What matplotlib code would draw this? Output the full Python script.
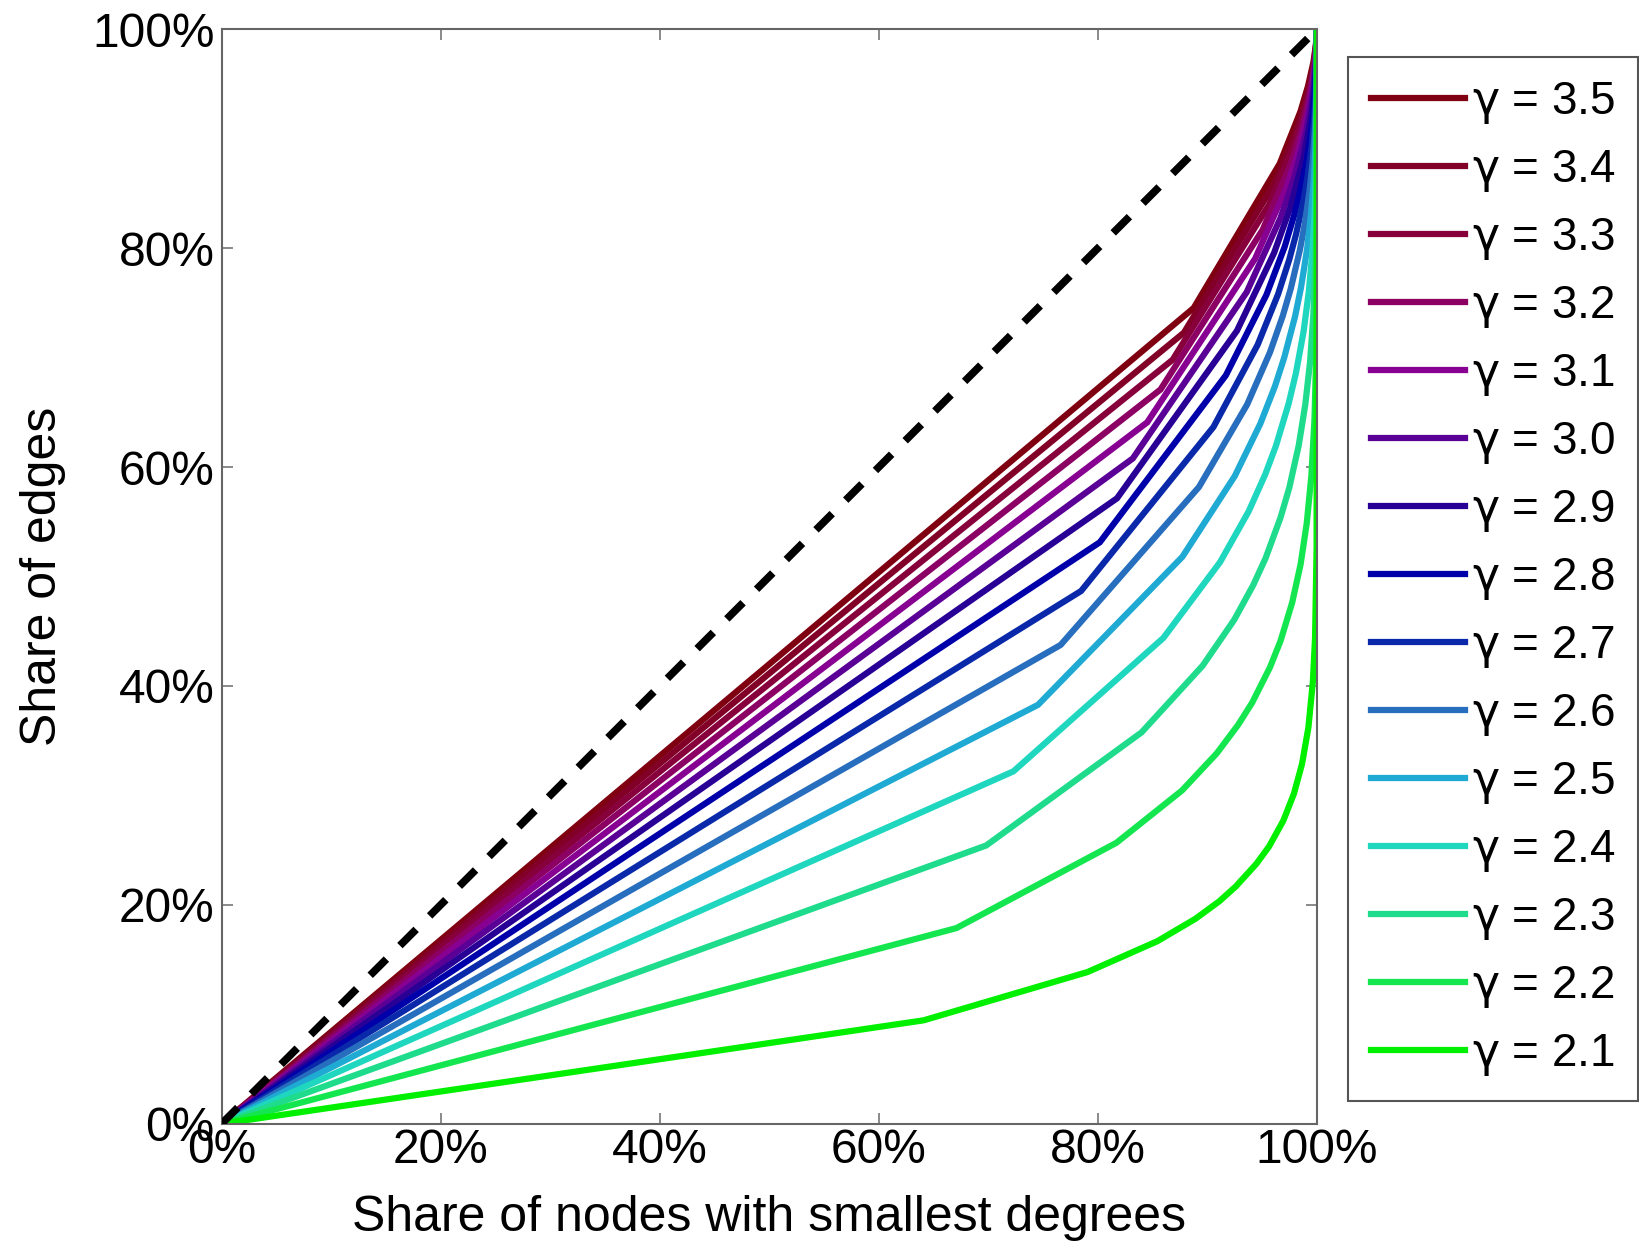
import matplotlib
matplotlib.use("Agg")
import matplotlib.pyplot as plt
from matplotlib.ticker import FuncFormatter

plt.rcParams['font.family'] = ['Liberation Sans', 'DejaVu Sans']
# upright gamma with a loop, as in the original
plt.rcParams['mathtext.fontset'] = 'custom'
plt.rcParams['mathtext.rm'] = 'DejaVu Sans'
plt.rcParams['mathtext.it'] = 'DejaVu Sans'

# gamma values, in legend order
gammas = [3.5, 3.4, 3.3, 3.2, 3.1, 3.0, 2.9, 2.8, 2.7, 2.6, 2.5, 2.4, 2.3, 2.2, 2.1]

colors = ['#7f0010', '#820028', '#87003c', '#8c0064', '#870091', '#5a0096',
          '#280096', '#0000aa', '#0a28aa', '#286ebe', '#1eaad2', '#1ed7be',
          '#1edc8c', '#14e650', '#00f000']

# share of nodes with smallest degrees (%), one row per gamma
node_share = [
    [0, 88.75, 96.60, 98.50, 99.19, 99.68, 99.90, 99.98, 100, 100, 100, 100],
    [0, 87.86, 96.18, 98.28, 99.07, 99.63, 99.87, 99.97, 100, 100, 100, 100],
    [0, 86.83, 95.64, 97.95, 98.85, 99.51, 99.83, 99.96, 99.99, 100, 100, 100],
    [0, 85.72, 95.05, 97.59, 98.61, 99.38, 99.78, 99.95, 99.99, 100, 100, 100],
    [0, 84.51, 94.36, 97.17, 98.32, 99.22, 99.71, 99.93, 99.99, 100, 100, 100],
    [0, 83.19, 93.59, 96.67, 97.97, 99.02, 99.62, 99.90, 99.98, 100, 100, 100],
    [0, 81.75, 92.70, 96.08, 97.55, 98.77, 99.51, 99.86, 99.97, 100, 100, 100],
    [0, 80.18, 91.69, 95.39, 97.05, 97.93, 98.46, 99.06, 99.35, 99.64, 99.81,
     99.91, 99.96, 99.99, 100, 100, 100],
    [0, 78.47, 90.55, 94.59, 96.45, 97.47, 98.09, 98.79, 99.15, 99.51, 99.73,
     99.86, 99.94, 99.98, 99.99, 100, 100],
    [0, 76.60, 89.23, 93.63, 95.71, 96.88, 97.61, 98.44, 98.89, 99.34, 99.62,
     99.80, 99.91, 99.97, 99.99, 100, 100],
    [0, 74.54, 87.72, 92.50, 94.83, 96.17, 97.01, 98.00, 98.54, 99.10, 99.46,
     99.71, 99.86, 99.95, 99.98, 100, 100],
    [0, 72.29, 85.99, 91.16, 93.76, 95.28, 96.26, 97.42, 98.08, 98.78, 99.25,
     99.57, 99.79, 99.92, 99.97, 100, 100],
    [0, 69.81, 83.99, 89.57, 92.45, 94.17, 95.31, 96.68, 97.48, 98.34, 98.94,
     99.37, 99.67, 99.87, 99.95, 99.99, 100],
    [0, 67.09, 81.69, 87.68, 90.85, 92.80, 94.10, 95.72, 96.68, 97.74, 98.51,
     99.07, 99.49, 99.78, 99.90, 99.99, 100],
    [0, 64.09, 79.05, 85.43, 88.91, 91.10, 92.58, 94.47, 95.62, 96.93, 97.90,
     98.64, 99.22, 99.63, 99.83, 99.97, 100],
]

# share of edges (%), same rows
edge_share = [
    [0, 74.54, 87.72, 92.50, 94.83, 97.01, 98.54, 99.46, 99.86, 99.98, 100, 100],
    [0, 72.29, 85.99, 91.16, 93.76, 96.26, 98.08, 99.25, 99.79, 99.97, 99.99, 100],
    [0, 69.81, 83.99, 89.57, 92.45, 95.31, 97.48, 98.94, 99.67, 99.95, 99.99, 100],
    [0, 67.09, 81.69, 87.68, 90.85, 94.10, 96.68, 98.51, 99.49, 99.90, 99.99, 100],
    [0, 64.09, 79.05, 85.43, 88.91, 92.58, 95.62, 97.90, 99.22, 99.83, 99.97, 100],
    [0, 60.79, 75.99, 82.75, 86.55, 90.67, 94.22, 97.04, 98.80, 99.70, 99.94, 100],
    [0, 57.15, 72.46, 79.55, 83.65, 88.24, 92.35, 95.81, 98.14, 99.46, 99.87, 100],
    [0, 53.13, 68.39, 75.74, 80.12, 83.05, 85.16, 88.02, 89.88, 92.18, 94.07,
     95.69, 97.12, 98.34, 99.04, 99.74, 100],
    [0, 48.68, 63.66, 71.18, 75.79, 78.95, 81.26, 84.46, 86.60, 89.30, 91.61,
     93.64, 95.53, 97.24, 98.30, 99.45, 100],
    [0, 43.75, 58.18, 65.72, 70.48, 73.81, 76.30, 79.82, 82.22, 85.35, 87.98,
     90.62, 93.07, 95.41, 96.97, 98.84, 100],
    [0, 38.28, 51.81, 59.18, 63.96, 67.39, 69.99, 73.75, 76.38, 79.90, 83.09,
     86.14, 89.23, 92.36, 94.59, 97.58, 100],
    [0, 32.20, 44.40, 51.32, 55.94, 59.33, 61.95, 65.81, 68.58, 72.38, 75.96,
     79.48, 83.23, 87.27, 90.34, 94.92, 100],
    [0, 25.43, 35.76, 41.86, 46.05, 49.19, 51.67, 55.40, 58.13, 61.99, 65.73,
     69.58, 73.86, 78.74, 82.72, 89.33, 100],
    [0, 17.88, 25.67, 30.45, 33.84, 36.44, 38.50, 41.72, 44.13, 47.62, 51.12,
     54.87, 59.19, 64.44, 69.02, 77.54, 100],
    [0, 9.45, 13.86, 16.68, 18.73, 20.34, 21.67, 23.75, 25.32, 27.69, 30.16,
     32.88, 36.20, 40.41, 44.40, 52.65, 100],
]

ticks = [0, 20, 40, 60, 80, 100]

fig = plt.figure(figsize=(16.39, 12.42), dpi=100)
ax = fig.add_axes([0.1352, 0.0952, 0.6683, 0.8812])

for g, c, xs, ys in zip(gammas, colors, node_share, edge_share):
    ax.plot(xs, ys, color=c, lw=4.5, label=r'$\gamma$ = %.1f' % g,
            solid_joinstyle='miter')

# equality line
ax.plot([0, 100], [0, 100], color='black', lw=5.5, dashes=(3.0, 2.5),
        dash_capstyle='butt', zorder=5)

ax.set_xlim(0, 100)
ax.set_ylim(0, 100)
ax.set_xticks(ticks)
ax.set_yticks(ticks)
pct = FuncFormatter(lambda v, p: '%d%%' % v)
ax.xaxis.set_major_formatter(pct)
ax.yaxis.set_major_formatter(pct)

ax.tick_params(direction='in', length=8, width=1.2, color='#777777',
               top=True, right=True, labelsize=34.5, labelcolor='black')
ax.tick_params(axis='x', pad=3)
ax.tick_params(axis='y', pad=5)
for sp in ax.spines.values():
    sp.set_color('#666666')
    sp.set_linewidth(1.5)

ax.set_xlabel('Share of nodes with smallest degrees', fontsize=36, labelpad=16)
ax.set_ylabel('Share of edges', fontsize=36, labelpad=19)

leg = ax.legend(loc='upper left', bbox_to_anchor=(1348 / 1639, 1 - 57 / 1242),
                bbox_transform=fig.transFigure, borderaxespad=0,
                fontsize=33, handlelength=2.05, handletextpad=0.15,
                labelspacing=0.48, borderpad=0.5, fancybox=False,
                framealpha=1)
leg.get_frame().set_edgecolor('#555555')
leg.get_frame().set_linewidth(1.5)

fig.savefig('out.png', dpi=100)
